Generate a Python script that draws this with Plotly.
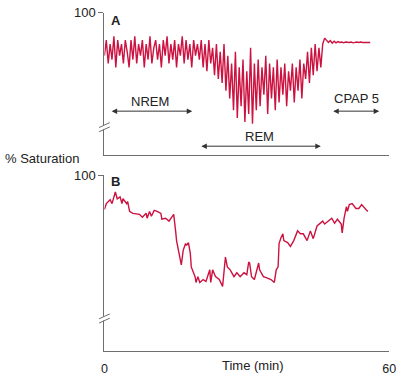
import plotly.graph_objects as go

# ---------------- data ----------------
SAMPLE_MIN_A = 0.4  # sampling interval of panel A trace (minutes)
sat_a = [
    89, 93, 87, 92, 88, 94, 86, 93, 89, 92, 87, 93, 90, 86, 93, 88, 94, 87, 92, 89,
    93, 86, 92, 88, 94, 87, 91, 93, 88, 92, 86, 93, 89, 94, 87, 92, 88, 93, 86, 92,
    89, 94, 87, 93, 88, 92, 86, 93, 89, 92,
    88, 93, 86, 92, 85, 93, 87, 91, 84, 92, 83, 90, 82, 92, 80,
    89, 78, 87, 75, 90, 73, 86, 76, 88, 72, 85, 74, 91, 71.5, 87, 75,
    88, 76, 86, 79, 89, 74, 87, 78, 86, 75, 88, 77, 86, 79, 87, 76, 85,
    80, 87, 77, 86, 80, 88, 78, 87,
    83, 90, 82, 91, 84, 92, 85, 91, 86,
    92, 93.5, 93, 92.4, 92.9, 92.2, 92.7, 92.3, 92.6, 92.4, 92.5, 92.3, 92.5,
    92.4, 92.4, 92.5, 92.3, 92.4, 92.5, 92.4, 92.5, 92.4, 92.4, 92.5, 92.4, 92.4,
]
time_a = [i * SAMPLE_MIN_A for i in range(len(sat_a))]

time_b = [0, 0.4, 1.2, 1.6, 2.3, 2.7, 3.3, 3.7, 3.9, 4.7, 4.9, 5.3, 6.0, 6.8, 7.4, 8.0,
          8.8, 9.0, 9.5, 9.9, 10.5, 11.1, 11.9, 12.1, 12.9, 13.6, 14.2, 14.6, 15.0, 15.2,
          15.6, 16.0, 16.2, 16.6, 17.1, 17.3, 17.7, 18.1, 18.3, 19.1, 19.3, 19.7, 20.1,
          20.8, 21.4, 22.2, 22.4, 22.8, 23.4, 24.2, 24.9, 25.3, 25.5, 25.9, 26.5, 27.3,
          27.9, 28.6, 29.4, 30.0, 30.4, 30.6, 31.0, 31.6, 32.5, 32.7, 33.5, 34.1, 35.1,
          35.8, 36.2, 36.6, 36.8, 37.2, 37.6, 37.8, 38.6, 39.2, 39.9, 40.7, 41.3, 41.9,
          42.7, 43.4, 44.0, 44.8, 45.4, 46.0, 46.4, 47.1, 47.9, 48.5, 49.1, 49.9, 50.1,
          50.5, 51.0, 51.2, 51.6, 52.2, 53.0, 53.6, 54.2, 55.1, 55.5]
sat_b = [91.25, 92.75, 93.75, 92.75, 95.75, 94, 94.5, 92.75, 94, 92.75, 93.25, 90.75,
         90.25, 90, 90, 89.25, 90.25, 89, 90.75, 89.5, 91, 90.75, 90.25, 88.75, 89,
         88.25, 89.5, 90, 85.75, 83.25, 80.75, 78.25, 77, 80.75, 82.5, 82, 82.75, 80,
         76.5, 74, 72.5, 74, 72.5, 73.25, 72.75, 75.75, 72.5, 75.75, 74, 73.25, 71.5,
         76.5, 79, 76.5, 75.75, 74, 75, 74, 75, 74.5, 77.75, 77.5, 74, 73.25, 77.5,
         75.75, 74, 73.75, 73.25, 72.5, 75.75, 76.5, 82.5, 84, 85, 83.25, 82.75, 81.75,
         83.25, 85.75, 85, 85, 83.25, 85.75, 83.75, 87, 87.75, 88.25, 87.5, 88.25, 89,
         87.75, 88.75, 87.5, 85.25, 89, 92, 90.75, 92.5, 92.75, 91.5, 91.5, 92.5, 91.25,
         90.75]

x_ticks = [0, 60]
x_tick_labels = ["0", "60"]
y_ticks = [100]
stage_labels = ["NREM", "REM", "CPAP 5"]
stage_start = [1.2, 20.1, 47.9]
stage_end = [18.5, 45.6, 57.9]

# ---------------- layout helpers ----------------
W, H = 403, 376
def px(x):
    return x / W
def py(y):
    return 1 - y / H

RED = "#cc1240"
AX = "#6e6e6e"
TXT = "#222222"
FONT = "Liberation Sans, Arial, sans-serif"

fig = go.Figure()
fig.add_trace(go.Scatter(x=time_a, y=sat_a, mode="lines",
                         line=dict(color=RED, width=1.4), xaxis="x", yaxis="y",
                         showlegend=False, hoverinfo="skip"))
fig.add_trace(go.Scatter(x=time_b, y=sat_b, mode="lines",
                         line=dict(color=RED, width=1.4), xaxis="x2", yaxis="y2",
                         showlegend=False, hoverinfo="skip"))

xdom = [px(104), px(396)]
common_x = dict(range=[0, 60], domain=xdom, showgrid=False, zeroline=False,
                showline=True, linecolor=AX, linewidth=1.2, tickvals=x_ticks,
                ticktext=x_tick_labels, ticks="inside", ticklen=4, tickcolor=AX,
                fixedrange=True)
common_y = dict(showgrid=False, zeroline=False, showline=True, linecolor=AX,
                linewidth=1.2, tickvals=y_ticks, ticks="outside", ticklen=5,
                tickcolor=AX, tickfont=dict(size=13, color=TXT, family=FONT),
                fixedrange=True)

fig.update_layout(
    width=W, height=H, margin=dict(l=0, r=0, t=0, b=0),
    paper_bgcolor="white", plot_bgcolor="white",
    font=dict(family=FONT, size=13, color=TXT),
    xaxis=dict(**common_x, anchor="y", showticklabels=False),
    yaxis=dict(**common_y, range=[63.5, 100], domain=[py(152), py(6)], anchor="x"),
    xaxis2=dict(**common_x, anchor="y2", showticklabels=True,
                tickfont=dict(size=12.5, color=TXT, family=FONT), ticklabelstandoff=6,
                ticklabeloverflow="allow"),
    yaxis2=dict(**common_y, range=[55, 100], domain=[py(353), py(173)], anchor="x2"),
)

anns = []
# stage arrows and labels (panel A)
label_x = [9.7, 32.7, 53.2]
label_y = [77.25, 68.25, 78]
arrow_y = [74.75, 65.75, 74.75]
for lab, s, e, lx, ly, ay in zip(stage_labels, stage_start, stage_end, label_x, label_y, arrow_y):
    anns.append(dict(x=e, y=ay, ax=s, ay=ay, xref="x", yref="y", axref="x", ayref="y",
                     text="", showarrow=True, arrowhead=2, arrowside="end+start",
                     arrowsize=1.1, arrowwidth=1, arrowcolor="#333333"))
    anns.append(dict(x=lx, y=ly, xref="x", yref="y", text=lab, showarrow=False,
                     font=dict(size=13, color=TXT)))

anns += [
    dict(x=px(109), y=py(13.5), xref="paper", yref="paper", text="<b>A</b>",
         showarrow=False, xanchor="left", yanchor="middle", font=dict(size=13, color=TXT)),
    dict(x=px(109), y=py(179), xref="paper", yref="paper", text="<b>B</b>",
         showarrow=False, xanchor="left", yanchor="middle", font=dict(size=13, color=TXT)),
    dict(x=0, y=py(156), xref="paper", yref="paper", text="% Saturation",
         showarrow=False, xanchor="left", yanchor="middle", font=dict(size=13, color=TXT)),
    dict(x=px(256), y=py(368), xref="paper", yref="paper", text="Time (min)",
         showarrow=False, xanchor="center", yanchor="middle", font=dict(size=13, color=TXT)),
]
fig.update_layout(annotations=anns)

# axis break marks on the two y-axes
shapes = []
for yb in (123.5, 320):
    shapes.append(dict(type="rect", xref="paper", yref="paper",
                       x0=px(101), x1=px(107), y0=py(yb + 2), y1=py(yb - 2),
                       fillcolor="white", line=dict(width=0), layer="above"))
    for off in (-2.2, 2.2):
        shapes.append(dict(type="line", xref="paper", yref="paper",
                           x0=px(98.5), y0=py(yb + off + 2.5),
                           x1=px(109.5), y1=py(yb + off - 2.5),
                           line=dict(color=AX, width=1), layer="above"))
fig.update_layout(shapes=shapes)

post = (
    "document.body.style.margin='0';document.body.style.overflow='hidden';"
    "var st=document.createElement('style');"
    "st.textContent='.modebar-container{display:none !important;}';"
    "document.head.appendChild(st);"
)
fig.write_html("out.html", post_script=post)
